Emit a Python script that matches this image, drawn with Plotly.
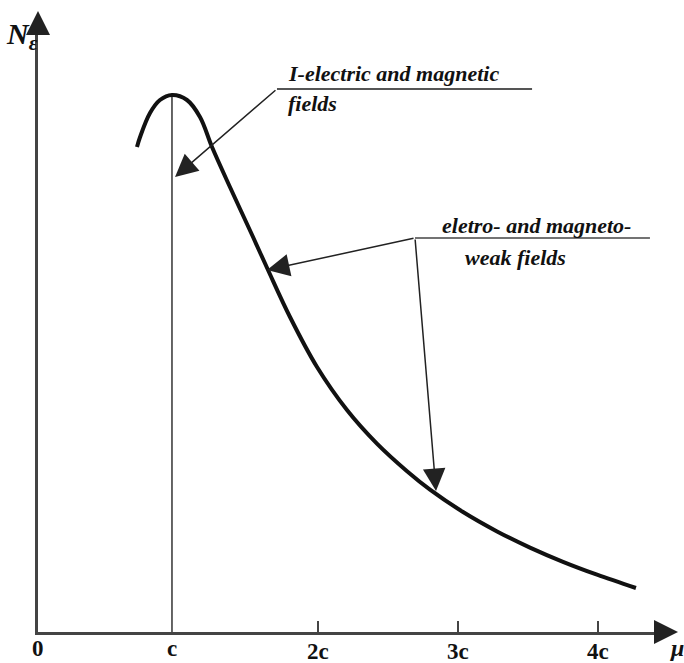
import plotly.graph_objects as go

# ---- data (x in units of c, y in arbitrary units of N_eps) ----
curve_x = [0.707, 0.729, 0.800, 0.871, 0.957, 1.064, 1.157, 1.243, 1.371, 1.536,
           1.643, 1.800, 1.993, 2.207, 2.421, 2.636, 2.800, 3.036, 3.279, 3.514,
           3.750, 3.993, 4.271]
curve_y = [4.85, 4.95, 5.19, 5.32, 5.37, 5.32, 5.15, 4.85, 4.45, 3.95,
           3.62, 3.15, 2.65, 2.22, 1.884, 1.608, 1.424, 1.20, 1.006, 0.844,
           0.702, 0.573, 0.44]

tick_vals = [0, 0.957, 2, 3, 4]
tick_text = ["0", "c", "2c", "3c", "4c"]
tick_shift = [-16, -16, -19, -19, -19]

peak_x = 0.957
peak_y = 5.37

label1_lines = ["I-electric and magnetic", "fields"]
label2_lines = ["eletro- and magneto-", "weak fields"]

# leader geometry (data units)
lead1_start = (1.707, 5.43)
lead1_end_x = 3.529
lead1_tip = (0.979, 4.55)
lead2_start = (2.693, 3.94)
lead2_end_x = 4.371
lead2_tips = [(1.636, 3.62), (2.843, 1.41)]

SERIF = "Liberation Serif"
AX_COLOR = "#444444"

fig = go.Figure()

# vertical line at c up to the peak
fig.add_trace(go.Scatter(x=[peak_x, peak_x], y=[0, peak_y], mode="lines",
                         line=dict(color="#333333", width=1.5),
                         hoverinfo="skip", showlegend=False))

# main curve
fig.add_trace(go.Scatter(x=curve_x, y=curve_y, mode="lines",
                         line=dict(color="#111111", width=4, shape="spline", smoothing=1.0),
                         hoverinfo="skip", showlegend=False))

# horizontal leader lines
fig.add_trace(go.Scatter(x=[lead1_start[0], lead1_end_x], y=[lead1_start[1], lead1_start[1]],
                         mode="lines", line=dict(color="#555555", width=2),
                         hoverinfo="skip", showlegend=False))
fig.add_trace(go.Scatter(x=[lead2_start[0], lead2_end_x], y=[lead2_start[1], lead2_start[1]],
                         mode="lines", line=dict(color="#444444", width=1.5),
                         hoverinfo="skip", showlegend=False))

annotations = []

# arrows
def arrow(tip, tail, width=1.5, size=3.0):
    return dict(x=tip[0], y=tip[1], xref="x", yref="y",
                ax=tail[0], ay=tail[1], axref="x", ayref="y",
                showarrow=True, arrowhead=2, arrowwidth=width, arrowsize=size,
                arrowcolor="#222222", text="", standoff=0)

annotations.append(arrow(lead1_tip, lead1_start))
for t in lead2_tips:
    annotations.append(arrow(t, lead2_start))

# labels
lab_font = dict(family=SERIF, size=22, color="#111111", style="italic", weight="bold")
annotations.append(dict(x=1.771, y=5.59, xref="x", yref="y", text=label1_lines[0],
                        showarrow=False, xanchor="left", yanchor="middle", font=lab_font))
annotations.append(dict(x=1.771, y=5.29, xref="x", yref="y", text=label1_lines[1],
                        showarrow=False, xanchor="left", yanchor="middle", font=lab_font))
annotations.append(dict(x=2.871, y=4.07, xref="x", yref="y", text=label2_lines[0],
                        showarrow=False, xanchor="left", yanchor="middle", font=lab_font))
annotations.append(dict(x=3.036, y=3.75, xref="x", yref="y", text=label2_lines[1],
                        showarrow=False, xanchor="left", yanchor="middle", font=lab_font))

# tick labels
tick_font = dict(family=SERIF, size=23, color="#111111", weight="bold")
for v, t, s in zip(tick_vals, tick_text, tick_shift):
    annotations.append(dict(x=v, y=0, xref="x", yref="y", text=t, showarrow=False,
                            xanchor="center", yanchor="middle", yshift=s, font=tick_font))

# axis arrowheads
annotations.append(dict(x=1.0175, y=0, xref="paper", yref="y", ax=-25, ay=0,
                        showarrow=True, arrowhead=2, arrowwidth=2, arrowsize=2.4,
                        arrowcolor="#222222", text="", standoff=0))
annotations.append(dict(x=0, y=1.0214, xref="x", yref="paper", ax=0, ay=25,
                        showarrow=True, arrowhead=2, arrowwidth=2, arrowsize=2.4,
                        arrowcolor="#222222", text="", standoff=0))

# axis titles
annotations.append(dict(x=-0.054, y=0.98, xref="paper", yref="paper",
                        text="N<sub>ε</sub>",
                        showarrow=False, xanchor="left", yanchor="middle",
                        font=dict(family=SERIF, size=30, color="#111111",
                                  style="italic", weight="bold")))
annotations.append(dict(x=1.0, y=0, xref="paper", yref="y", text="μ<sub>ε</sub>",
                        showarrow=False, xanchor="left", yanchor="middle", yshift=-18,
                        font=dict(family=SERIF, size=24, color="#111111",
                                  style="italic", weight="bold")))

fig.update_layout(
    width=684, height=663,
    margin=dict(l=38, r=17, t=24, b=31),
    paper_bgcolor="white", plot_bgcolor="white",
    showlegend=False,
    annotations=annotations,
    xaxis=dict(range=[0, 629 / 140], showgrid=False, zeroline=False,
               showline=True, linecolor=AX_COLOR, linewidth=2.5,
               ticks="inside", tickvals=tick_vals[2:], ticklen=11, tickwidth=1.5,
               tickcolor=AX_COLOR, showticklabels=False, fixedrange=True),
    yaxis=dict(range=[0, 6.08], showgrid=False, zeroline=False,
               showline=True, linecolor=AX_COLOR, linewidth=2.5,
               ticks="", showticklabels=False, fixedrange=True),
)

fig.write_html("out.html", config={"displayModeBar": False},
               post_script="document.body.style.margin='0px';document.body.style.overflow='hidden';")
